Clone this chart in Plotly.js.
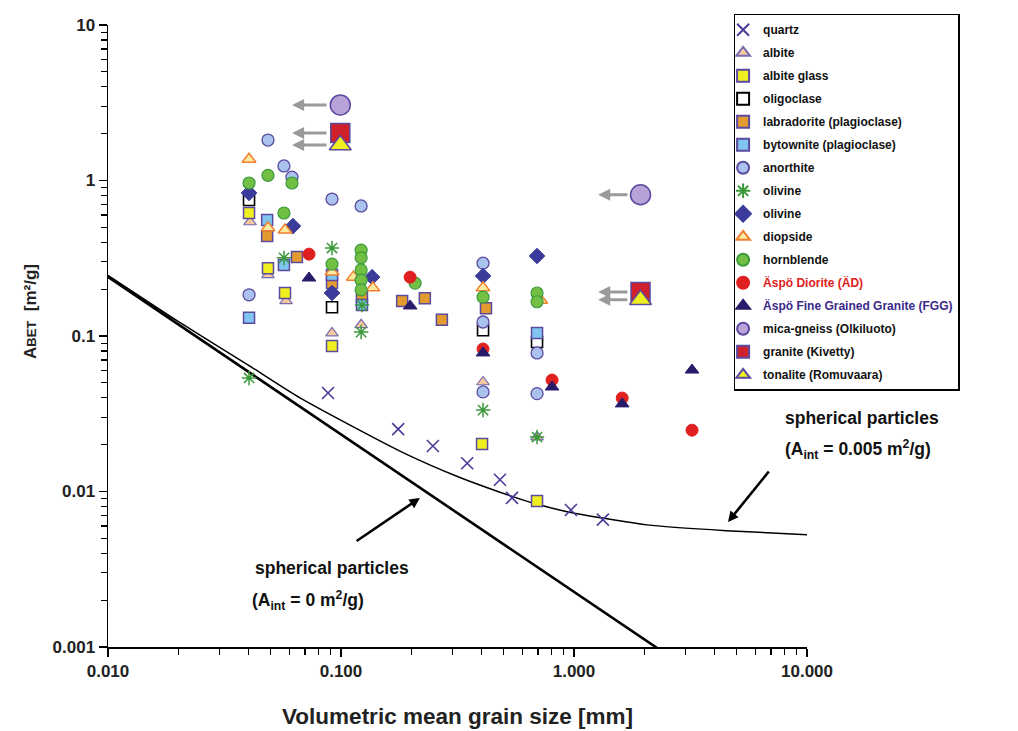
<!DOCTYPE html>
<html>
<head>
<meta charset="utf-8">
<script src="https://cdn.plot.ly/plotly-3.0.1.min.js"></script>
<style>html,body{margin:0;padding:0;background:#fff;}#chart{width:1018px;height:731px;}</style>
</head>
<body>
<div id="chart"></div>
<script>
// ---- data ----
const quartzX = [0.088, 0.176, 0.248, 0.348, 0.481, 0.542, 0.970, 1.33];
const quartzY = [0.043, 0.0252, 0.0196, 0.0152, 0.0119, 0.0091, 0.0076, 0.0066];

const albiteX = [0.0407, 0.0486, 0.0581, 0.0915, 0.122, 0.407, 0.694];
const albiteY = [0.541, 0.247, 0.168, 0.1045, 0.118, 0.0506, 0.0224];

const albiteGlassX = [0.0403, 0.0486, 0.0575, 0.0915, 0.403, 0.694];
const albiteGlassY = [0.618, 0.273, 0.189, 0.0863, 0.0202, 0.0087];

const oligoclaseX = [0.0403, 0.0915, 0.407, 0.694];
const oligoclaseY = [0.75, 0.153, 0.109, 0.0914];

const labradoriteX = [0.0482, 0.0647, 0.0915, 0.123, 0.183, 0.229, 0.271, 0.419];
const labradoriteY = [0.44, 0.322, 0.219, 0.178, 0.168, 0.175, 0.127, 0.151];

const bytowniteX = [0.0403, 0.0482, 0.0569, 0.0915, 0.123, 0.694];
const bytowniteY = [0.131, 0.557, 0.286, 0.247, 0.158, 0.1045];

const anorthiteX = [0.0486, 0.0569, 0.0616, 0.0915, 0.122, 0.0403, 0.407, 0.407, 0.407, 0.694, 0.694];
const anorthiteY = [1.82, 1.24, 1.05, 0.76, 0.686, 0.184, 0.294, 0.123, 0.0437, 0.0778, 0.0426];

const olivineXX = [0.0403, 0.0569, 0.0915, 0.123, 0.122, 0.407, 0.694];
const olivineXY = [0.0537, 0.318, 0.368, 0.158, 0.106, 0.0334, 0.0224];

const olivineDX = [0.0403, 0.0622, 0.0915, 0.136, 0.407, 0.694];
const olivineDY = [0.832, 0.509, 0.189, 0.239, 0.243, 0.327];

const diopsideX = [0.0403, 0.0486, 0.0575, 0.0915, 0.113, 0.137, 0.407, 0.72];
const diopsideY = [1.37, 0.496, 0.481, 0.258, 0.239, 0.204, 0.204, 0.17];

const hornblendeX = [0.0403, 0.0486, 0.0616, 0.0569, 0.0915, 0.122, 0.122, 0.122, 0.122, 0.122, 0.208, 0.407, 0.694, 0.694];
const hornblendeY = [0.964, 1.08, 0.964, 0.618, 0.29, 0.357, 0.318, 0.266, 0.229, 0.198, 0.219, 0.178, 0.189, 0.166];

const adX = [0.0729, 0.198, 0.407, 0.805, 1.61, 3.21];
const adY = [0.336, 0.239, 0.0825, 0.0521, 0.0399, 0.0248];

const fggX = [0.0729, 0.198, 0.407, 0.805, 1.61, 3.21];
const fggY = [0.236, 0.156, 0.0778, 0.047, 0.0366, 0.0604];

const micaX = [0.0993, 1.93];
const micaY = [3.06, 0.81];

const graniteX = [0.0993, 1.93];
const graniteY = [2.02, 0.192];

const tonaliteX = [0.0993, 1.93];
const tonaliteY = [1.69, 0.171];

// model lines
const sphere0X = [0.01, 2.6];
const sphere0Y = [0.24, 0.00086];
const sphere005X = [0.01, 0.02, 0.04, 0.0667, 0.179, 0.324, 0.481, 0.667, 0.933, 2.06, 4.5, 10];
const sphere005Y = [0.245, 0.124, 0.065, 0.0400, 0.0182, 0.0123, 0.0099, 0.00843, 0.00742, 0.0061, 0.0056, 0.00527];

// grey shift arrows (tip -> tail)
const shiftTipX = [0.0617, 0.0617, 0.0617, 1.27, 1.27, 1.27];
const shiftTailX = [0.088, 0.088, 0.088, 1.72, 1.72, 1.72];
const shiftY = [3.06, 2.02, 1.69, 0.81, 0.192, 0.171];

// tick labels
const xTickVals = [0.01, 0.1, 1, 10];
const xTickText = ['0.010', '0.100', '1.000', '10.000'];
const yTickVals = [0.001, 0.01, 0.1, 1, 10];
const yTickText = ['0.001', '0.01', '0.1', '1', '10'];

// ---- styling ----
const PURP = '#5a4aa0';
const FONT = 'Liberation Sans, Arial, sans-serif';

function pts(name, x, y, marker, i) {
  return {type: 'scatter', mode: 'markers', name: name, x: x, y: y, marker: marker,
          legendgroup: 'g' + i, cliponaxis: false};
}

const traces = [
  {type: 'scatter', mode: 'lines', x: sphere0X, y: sphere0Y, line: {color: '#000', width: 2.6}, showlegend: false, hoverinfo: 'skip'},
  {type: 'scatter', mode: 'lines', x: sphere005X, y: sphere005Y, line: {color: '#000', width: 1.5, shape: 'spline', smoothing: 0.6}, showlegend: false, hoverinfo: 'skip'},
  pts('quartz', quartzX, quartzY, {symbol: 'x-thin-open', size: 12, color: '#4a3a9a', line: {color: '#4a3a9a', width: 1.6}}, 1),
  pts('albite', albiteX, albiteY, {symbol: 'triangle-up', size: 11, color: '#f5c8a0', line: {color: '#7a6ab0', width: 1.2}}, 2),
  pts('albite glass', albiteGlassX, albiteGlassY, {symbol: 'square', size: 11, color: '#f0f020', line: {color: PURP, width: 1.5}}, 3),
  pts('oligoclase', oligoclaseX, oligoclaseY, {symbol: 'square', size: 11, color: '#ffffff', line: {color: '#000', width: 1.6}}, 4),
  pts('labradorite (plagioclase)', labradoriteX, labradoriteY, {symbol: 'square', size: 11, color: '#e39a2e', line: {color: PURP, width: 1.5}}, 5),
  pts('bytownite (plagioclase)', bytowniteX, bytowniteY, {symbol: 'square', size: 11, color: '#80c4f0', line: {color: PURP, width: 1.5}}, 6),
  pts('anorthite', anorthiteX, anorthiteY, {symbol: 'circle', size: 12, color: '#a9c2ee', line: {color: PURP, width: 1.3}}, 7),
  pts('olivine', olivineXX, olivineXY, {symbol: 'asterisk-open', size: 12, color: '#3a9a3a', line: {color: '#3a9a3a', width: 1.5}}, 8),
  pts('olivine', olivineDX, olivineDY, {symbol: 'diamond', size: 12, color: '#3b3b9c', line: {color: '#3b3b9c', width: 1}}, 9),
  pts('diopside', diopsideX, diopsideY, {symbol: 'triangle-up', size: 12, color: '#fbeaa2', line: {color: '#f08030', width: 1.5}}, 10),
  pts('hornblende', hornblendeX, hornblendeY, {symbol: 'circle', size: 12, color: '#72c043', line: {color: '#3d9a3d', width: 1.2}}, 11),
  pts('<span style="color:#e02020">Äspö Diorite (ÄD)</span>', adX, adY, {symbol: 'circle', size: 12, color: '#e02020', line: {color: '#e02020', width: 1}}, 12),
  pts('<span style="color:#3a2a8a">Äspö Fine Grained Granite (FGG)</span>', fggX, fggY, {symbol: 'triangle-up', size: 12, color: '#2a1a6a', line: {color: '#2a1a6a', width: 1}}, 13),
  pts('mica-gneiss (Olkiluoto)', micaX, micaY, {symbol: 'circle', size: 20, color: '#b9a2d8', line: {color: PURP, width: 1.5}}, 14),
  pts('granite (Kivetty)', graniteX, graniteY, {symbol: 'square', size: 19, color: '#d0202c', line: {color: PURP, width: 1.5}}, 15),
  pts('tonalite (Romuvaara)', tonaliteX, tonaliteY, {symbol: 'triangle-up', size: 19, color: '#f0f020', line: {color: PURP, width: 1.5}}, 16)
];

// annotations
const annotations = [];
for (let i = 0; i < shiftY.length; i++) {
  annotations.push({x: Math.log10(shiftTipX[i]), y: Math.log10(shiftY[i]), ax: Math.log10(shiftTailX[i]), ay: Math.log10(shiftY[i]),
    xref: 'x', yref: 'y', axref: 'x', ayref: 'y', text: '', showarrow: true, arrowhead: 2, arrowsize: 0.8,
    arrowwidth: 3, arrowcolor: '#9a9a9a', standoff: 0, startstandoff: 0});
}
// black pointer arrows
annotations.push({x: Math.log10(4.58), y: Math.log10(0.00637), ax: Math.log10(6.94), ay: Math.log10(0.01374),
  xref: 'x', yref: 'y', axref: 'x', ayref: 'y', text: '', showarrow: true, arrowhead: 2, arrowsize: 0.8, arrowwidth: 2.6, arrowcolor: '#000', standoff: 0});
annotations.push({x: Math.log10(0.218), y: Math.log10(0.00908), ax: Math.log10(0.115), ay: Math.log10(0.00473),
  xref: 'x', yref: 'y', axref: 'x', ayref: 'y', text: '', showarrow: true, arrowhead: 2, arrowsize: 0.8, arrowwidth: 2.6, arrowcolor: '#000', standoff: 0});

const txtFont = {family: FONT, size: 17.5, color: '#111', weight: 'bold'};
function lbl(text, px, py) {
  return {text: text, xref: 'paper', yref: 'paper', x: (px - 108) / 699, y: (647 - py) / 622,
          xanchor: 'left', yanchor: 'middle', showarrow: false, font: txtFont};
}
annotations.push(lbl('spherical particles', 783, 418));
annotations.push(lbl('(A<sub>int</sub> = 0.005 m<sup>2</sup>/g)', 783, 450));
annotations.push(lbl('spherical particles', 253, 568));
annotations.push(lbl('(A<sub>int</sub> = 0 m<sup>2</sup>/g)', 250, 600));
// y-axis title
annotations.push({text: 'A<span style="font-size:13px">BET</span>  [m²/g]', xref: 'paper', yref: 'paper',
  x: (30 - 108) / 699, y: (647 - 312) / 622, xanchor: 'center', yanchor: 'middle', textangle: -90, showarrow: false,
  font: {family: FONT, size: 17, color: '#222', weight: 'bold'}});

const tickFont = {family: FONT, size: 17, color: '#222', weight: 'bold'};

const layout = {
  width: 1018, height: 731,
  margin: {l: 108, r: 211, t: 25, b: 84},
  paper_bgcolor: '#fff', plot_bgcolor: '#fff',
  showlegend: true,
  legend: {
    x: 0.895, y: 1.018, xanchor: 'left', yanchor: 'top',
    bgcolor: '#fff', bordercolor: '#000', borderwidth: 1.5,
    font: {family: FONT, size: 12, color: '#111', weight: 'bold'},
    itemsizing: 'constant', tracegroupgap: 4.0, itemwidth: 30, indentation: -12, maxheight: 700
  },
  xaxis: {
    type: 'log', range: [-2, 1], tickvals: xTickVals, ticktext: xTickText,
    ticks: 'outside', ticklen: 8, tickwidth: 1.5, tickcolor: '#000',
    showline: true, linecolor: '#000', linewidth: 1.5, showgrid: false, zeroline: false,
    tickfont: tickFont,
    minor: {ticks: 'outside', ticklen: 6, tickwidth: 1.2, tickcolor: '#000', dtick: 'D1', showgrid: false},
    title: {text: 'Volumetric mean grain size [mm]', font: {family: FONT, size: 22.5, color: '#222', weight: 'bold'}, standoff: 28}
  },
  yaxis: {
    type: 'log', range: [-3, 1], tickvals: yTickVals, ticktext: yTickText,
    ticks: 'outside', ticklen: 8, tickwidth: 1.5, tickcolor: '#000',
    showline: true, linecolor: '#000', linewidth: 1.5, showgrid: false, zeroline: false,
    tickfont: tickFont,
    minor: {ticks: 'outside', ticklen: 6, tickwidth: 1.2, tickcolor: '#000', dtick: 'D1', showgrid: false}
  },
  annotations: annotations
};

Plotly.newPlot('chart', traces, layout, {displayModeBar: false, staticPlot: true});
</script>
</body>
</html>
